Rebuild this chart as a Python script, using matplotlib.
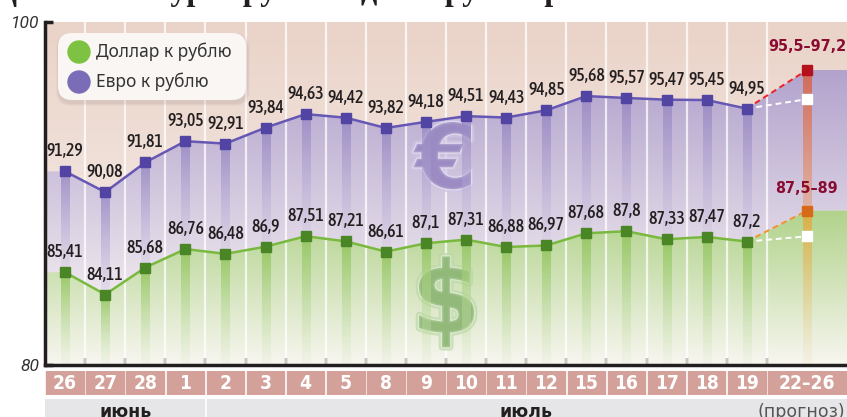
import numpy as np
import matplotlib
matplotlib.use('Agg')
import matplotlib.pyplot as plt
from matplotlib import font_manager
from matplotlib.font_manager import FontProperties
from matplotlib.textpath import TextToPath
from matplotlib.patches import Rectangle, FancyBboxPatch, Circle, Polygon
from matplotlib.colors import to_rgb
import matplotlib.patheffects as pe

# ---------------- data ----------------
dates = ['26', '27', '28', '1', '2', '3', '4', '5', '8', '9', '10', '11',
         '12', '15', '16', '17', '18', '19']
usd = [85.41, 84.11, 85.68, 86.76, 86.48, 86.9, 87.51, 87.21, 86.61, 87.1,
       87.31, 86.88, 86.97, 87.68, 87.8, 87.33, 87.47, 87.2]
eur = [91.29, 90.08, 91.81, 93.05, 92.91, 93.84, 94.63, 94.42, 93.82, 94.18,
       94.51, 94.43, 94.85, 95.68, 95.57, 95.47, 95.45, 94.95]
forecast_label = '22–26'
usd_fc = [87.5, 89.0]
eur_fc = [95.5, 97.2]
usd_fc_text = '87,5–89'
eur_fc_text = '95,5–97,2'
months = ['июнь', 'июль', '(прогноз)']
series_names = ['Доллар к рублю', 'Евро к рублю']
title = 'Динамика курса рубля к доллару и евро'
y_min, y_max = 80, 100

# ---------------- setup ----------------
W, H = 847, 417
DPI = 100
fig = plt.figure(figsize=(W / DPI, H / DPI), dpi=DPI)


def _w(f):
    if isinstance(f.weight, int):
        return f.weight
    return font_manager.weight_dict.get(f.weight, 400)


def pick(weight='normal', style='normal'):
    wnum = 700 if weight == 'bold' else (500 if weight == 'medium' else 400)
    best = None
    for f in font_manager.fontManager.ttflist:
        narrow = ('Condensed' in f.name or 'Narrow' in f.name
                  or 'condensed' in str(f.stretch))
        if not narrow or f.style != style:
            continue
        score = abs(_w(f) - wnum)
        if best is None or score < best[0]:
            best = (score, f)
    if best is not None and best[0] <= 150:
        return FontProperties(fname=best[1].fname)
    return FontProperties(family='Roboto', weight=weight, style=style)


_t2p = TextToPath()


def fit(base, text, target_px, max_pt):
    p = base.copy()
    p.set_size(10)
    w, h, d = _t2p.get_text_width_height_descent(text, p, ismath=False)
    size = min(max_pt, 10 * target_px / (w * DPI / 72.0))
    p.set_size(size)
    return p


F_VAL = pick('medium')
F_BOLD = pick('bold')
fp_val = fit(F_VAL, '91,29', 36.5, 15)
fp_fc = fit(F_BOLD, eur_fc_text, 78, 15)
fp_date = fit(F_BOLD, '26', 24, 17)
fp_tick = FontProperties(family='Roboto', style='italic', size=12.5)


def ax_px(x0, y0, x1, y1):
    return fig.add_axes([x0 / W, 1 - y1 / H, (x1 - x0) / W, (y1 - y0) / H])


def vgrad(ax, extent, c_top, c_bot, a_top=1.0, a_bot=1.0, clip=None, zorder=1):
    n = 256
    t = np.linspace(0, 1, n)[:, None]
    ct, cb = np.array(to_rgb(c_top)), np.array(to_rgb(c_bot))
    rgb = ct[None, :] * (1 - t) + cb[None, :] * t
    a = a_top * (1 - t) + a_bot * t
    img = np.concatenate([rgb, a], axis=1)[:, None, :]
    im = ax.imshow(img, extent=extent, aspect='auto', origin='upper',
                   zorder=zorder, interpolation='bilinear')
    if clip is not None:
        im.set_clip_path(clip)
    return im


x = np.arange(len(dates))
xf = len(dates) + 0.5
x_right = len(dates) + 1.5

ax = ax_px(45, 22, 847, 365)

# background
vgrad(ax, (-0.5, x_right, 84, 100), '#ead3c8', '#f5ece8', zorder=0)

# purple area
xs = [-0.5] + list(x) + [xf, x_right]
top_e = [eur[0]] + eur + [eur_fc[1]] * 2
top_u = [usd[0]] + usd + [usd_fc[1]] * 2
poly_e = Polygon(list(zip(xs, top_e)) + list(zip(xs[::-1], top_u[::-1])),
                 closed=True, facecolor='none', edgecolor='none',
                 transform=ax.transData)
ax.add_patch(poly_e)
vgrad(ax, (-0.5, x_right, 84, 99), '#a999c8', '#efe8ee', clip=poly_e, zorder=1)

# green area
poly_u = Polygon(list(zip(xs, top_u)) + [(x_right, y_min), (-0.5, y_min)],
                 closed=True, facecolor='none', edgecolor='none',
                 transform=ax.transData)
ax.add_patch(poly_u)
vgrad(ax, (-0.5, x_right, y_min, 89.5), '#add186', '#f8f6f0', clip=poly_u, zorder=1)

# column separators
for b in np.arange(0.5, len(dates), 1):
    ax.axvline(b, color='white', lw=1.6, alpha=0.75, zorder=2)

# watermark symbols
ax.text(9.5, 91.75, '€', fontsize=64, fontweight='bold', ha='center', va='center',
        color='#9a8ac2', alpha=0.7, zorder=2,
        path_effects=[pe.Stroke(linewidth=5, foreground='#cfc5e4'),
                      pe.Stroke(linewidth=2, foreground='#e9e4f2'), pe.Normal()])
ax.text(9.5, 83.5, '$', fontsize=72, fontweight='bold', ha='center', va='center',
        color='#90b878', alpha=0.7, zorder=2,
        path_effects=[pe.Stroke(linewidth=5, foreground='#bcd8a8'),
                      pe.Stroke(linewidth=2, foreground='#e3efd8'), pe.Normal()])

# vertical bars
bw = 0.1
for i in range(len(dates)):
    vgrad(ax, (x[i] - bw, x[i] + bw, usd[i], eur[i]), '#9586c2', '#c8bedf',
          a_top=0.8, a_bot=0.2, zorder=3)
    vgrad(ax, (x[i] - bw, x[i] + bw, y_min, usd[i]), '#93c660', '#d6e8c2',
          a_top=0.9, a_bot=0.15, zorder=3)
vgrad(ax, (xf - bw, xf + bw, usd_fc[1], eur_fc[1]), '#d26a58', '#e2ae98',
      a_top=1.0, a_bot=0.8, zorder=3)
vgrad(ax, (xf - bw, xf + bw, y_min, usd_fc[1]), '#ddac40', '#eedcae',
      a_top=0.95, a_bot=0.15, zorder=3)

# lines
ax.plot(x, eur, color='#6557b3', lw=1.8, zorder=5)
ax.plot(x, usd, color='#79b93d', lw=1.8, zorder=5)
ax.plot(x, eur, 's', color='#5244a3', ms=7, zorder=6)
ax.plot(x, usd, 's', color='#4a8526', ms=7, zorder=6)

# forecast lines
dash = (0, (3, 2))
ax.plot([x[-1], xf], [eur[-1], eur_fc[1]], color='#ec2228', lw=1.4, ls=dash, zorder=5)
ax.plot([x[-1], xf], [eur[-1], eur_fc[0]], color='white', lw=1.4, ls=dash, zorder=5)
ax.plot([x[-1], xf], [usd[-1], usd_fc[1]], color='#f29230', lw=1.4, ls=dash, zorder=5)
ax.plot([x[-1], xf], [usd[-1], usd_fc[0]], color='white', lw=1.4, ls=dash, zorder=5)
ax.plot([xf], [eur_fc[1]], 's', color='#b3121c', ms=7, zorder=6)
ax.plot([xf], [usd_fc[1]], 's', color='#d66a18', ms=7, zorder=6)
ax.plot([xf, xf], [eur_fc[0], usd_fc[0]], 's', color='white', ms=7, zorder=6)


def fmt(v):
    return ('%g' % v).replace('.', ',')


for i in range(len(dates)):
    for v in (eur[i], usd[i]):
        ax.annotate(fmt(v), (x[i], v), xytext=(0, 20), textcoords='offset pixels',
                    ha='center', va='center', fontproperties=fp_val,
                    color='#231f20', zorder=7)
ax.annotate(eur_fc_text, (xf, eur_fc[1]), xytext=(0, 24), textcoords='offset pixels',
            ha='center', va='center', fontproperties=fp_fc,
            color='#8a0b30', zorder=7)
ax.annotate(usd_fc_text, (xf, usd_fc[1]), xytext=(0, 22), textcoords='offset pixels',
            ha='center', va='center', fontproperties=fp_fc,
            color='#8a0b30', zorder=7)

# axes styling
ax.set_xlim(-0.5, x_right)
ax.set_ylim(y_min, y_max)
for s in ('top', 'right'):
    ax.spines[s].set_visible(False)
for s in ('left', 'bottom'):
    ax.spines[s].set_linewidth(2.5)
    ax.spines[s].set_color('#231f20')
    ax.spines[s].set_zorder(8)
ax.set_xticks(np.arange(0.5, len(dates), 1))
ax.set_xticklabels([])
ax.tick_params(axis='x', direction='in', length=5, width=1.6, color='#231f20')
ax.set_yticks([y_min, y_max])
ax.set_yticklabels([str(y_min), str(y_max)])
ax.tick_params(axis='y', direction='in', length=6, width=2.5, color='#231f20', pad=4)
for t in ax.get_yticklabels():
    t.set_fontproperties(fp_tick)
    t.set_color('#333333')

# legend
lg = ax_px(50, 28, 256, 108)
lg.set_xlim(0, 206)
lg.set_ylim(80, 0)
lg.axis('off')
for k, a in [(6, 0.04), (4, 0.05), (2, 0.06)]:
    lg.add_patch(FancyBboxPatch((8 + 1 - k / 2, 5 + 3 - k / 2), 188 + k, 67 + k,
                                boxstyle='round,pad=0,rounding_size=15',
                                facecolor='#6b5a55', edgecolor='none', alpha=a))
lg.add_patch(FancyBboxPatch((8, 5), 188, 67, boxstyle='round,pad=0,rounding_size=14',
                            facecolor='#faf6f4', edgecolor='none'))
lg.add_patch(Circle((29, 24), 11, color='#7dc242'))
lg.add_patch(Circle((29, 54), 11, color='#7b6cb8'))
lg.text(46, 24, series_names[0], va='center', ha='left', fontsize=12.5,
        family='Noto Sans', color='#333333')
lg.text(46, 54, series_names[1], va='center', ha='left', fontsize=12.5,
        family='Noto Sans', color='#333333')

# date label row
lab = ax_px(45, 371, 847, 395)
lab.set_xlim(-0.5, x_right)
lab.set_ylim(0, 1)
lab.axis('off')
for i, d in enumerate(dates):
    lab.add_patch(Rectangle((x[i] - 0.5 + 0.03, 0), 0.94, 1, color='#d4a19a'))
    lab.text(x[i], 0.47, d, ha='center', va='center', color='white',
             fontproperties=fp_date)
lab.add_patch(Rectangle((len(dates) - 0.5 + 0.03, 0), 1.97, 1, color='#d4a19a'))
lab.text(xf, 0.47, forecast_label, ha='center', va='center', color='white',
         fontproperties=fp_date)

# month row
mon = ax_px(45, 399, 847, 430)
mon.set_xlim(-0.5, x_right)
mon.set_ylim(0, 1)
mon.axis('off')
mon.add_patch(Rectangle((-0.5, 0), 3.97, 1, color='#e6e6e8'))
mon.add_patch(Rectangle((3.53, 0), 15.97, 1, color='#e6e6e8'))
yb = 1 - (417 - 399) / 31
mon.text(1.5, yb, months[0], ha='center', va='baseline', fontsize=12.5,
         fontweight='bold', color='#231f20')
mon.text(11.5, yb, months[1], ha='center', va='baseline', fontsize=12.5,
         fontweight='bold', color='#231f20')
mon.text(19.45, yb, months[2], ha='right', va='baseline', fontsize=12.5,
         color='#555555')

# clipped title at the very top
fig.text(-5 / W, 1.0, title, family='Liberation Serif', fontweight='bold',
         fontsize=23, va='baseline', ha='left', color='#231f20')

fig.savefig('out.png', dpi=DPI)
